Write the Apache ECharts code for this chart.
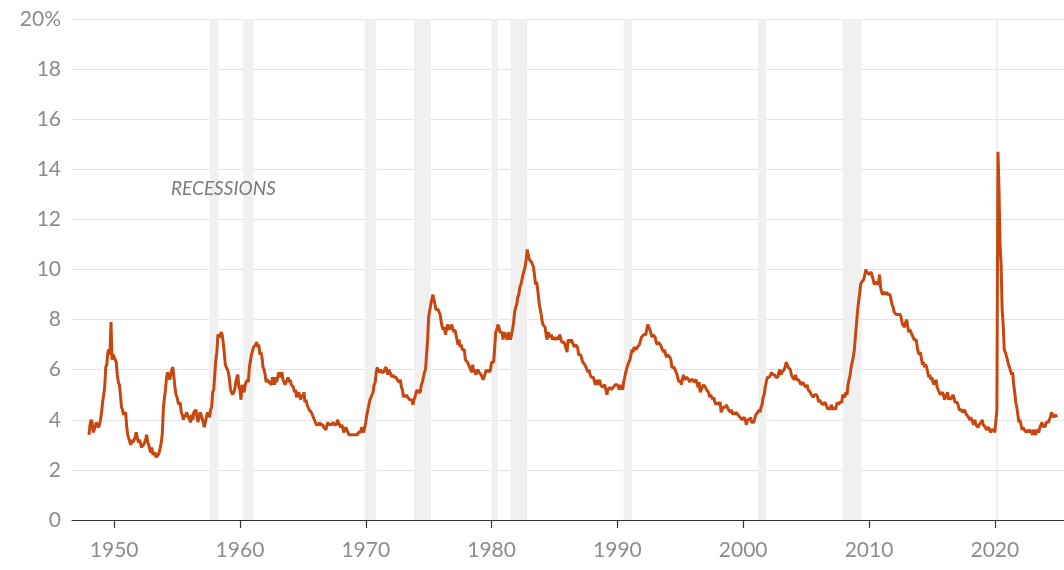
<!DOCTYPE html>
<html>
<head>
<meta charset="utf-8">
<script src="https://cdn.jsdelivr.net/npm/echarts@6/dist/echarts.min.js"></script>
<style>
html,body{margin:0;padding:0;background:#fff;}
#chart{width:1064px;height:570px;}
</style>
</head>
<body>
<div id="chart"></div>
<script>
// Monthly US unemployment rate (%), Jan..Dec for each year, starting 1948
var startYear = 1948;
var rates1940s = [
  3.4,3.8,4.0,3.9,3.5,3.6,3.6,3.9,3.8,3.7,3.8,4.0,
  4.3,4.7,5.0,5.3,6.1,6.2,6.7,6.8,6.6,7.9,6.4,6.6
];
var rates1950s = [
  6.5,6.4,6.3,5.8,5.5,5.4,5.0,4.5,4.4,4.2,4.2,4.3,
  3.7,3.4,3.4,3.1,3.0,3.2,3.1,3.1,3.3,3.5,3.5,3.1,
  3.2,3.1,2.9,2.9,3.0,3.0,3.2,3.4,3.1,3.0,2.8,2.7,
  2.9,2.6,2.6,2.7,2.5,2.5,2.6,2.7,2.9,3.1,3.5,4.5,
  4.9,5.2,5.7,5.9,5.9,5.6,5.8,6.0,6.1,5.7,5.3,5.0,
  4.9,4.7,4.6,4.7,4.3,4.2,4.0,4.2,4.1,4.3,4.2,4.2,
  4.0,3.9,4.2,4.0,4.3,4.3,4.4,4.1,3.9,3.9,4.3,4.2,
  4.2,3.9,3.7,3.9,4.1,4.3,4.2,4.1,4.4,4.5,5.1,5.2,
  5.8,6.4,6.7,7.4,7.4,7.3,7.5,7.4,7.1,6.7,6.2,6.2,
  6.0,5.9,5.6,5.2,5.1,5.0,5.1,5.2,5.5,5.7,5.8,5.3
];
var rates1960s = [
  5.2,4.8,5.4,5.2,5.1,5.4,5.5,5.6,5.5,6.1,6.1,6.6,
  6.6,6.9,6.9,7.0,7.1,6.9,7.0,6.6,6.7,6.5,6.1,6.0,
  5.8,5.5,5.6,5.6,5.5,5.5,5.4,5.7,5.6,5.4,5.7,5.5,
  5.7,5.9,5.7,5.7,5.9,5.6,5.6,5.4,5.5,5.5,5.7,5.5,
  5.6,5.4,5.4,5.3,5.1,5.2,4.9,5.0,5.1,5.1,4.8,5.0,
  4.9,5.1,4.7,4.8,4.6,4.6,4.4,4.4,4.3,4.2,4.1,4.0,
  4.0,3.8,3.8,3.8,3.9,3.8,3.8,3.8,3.7,3.7,3.6,3.8,
  3.9,3.8,3.8,3.8,3.8,3.9,3.8,3.8,3.8,4.0,3.9,3.8,
  3.7,3.8,3.7,3.5,3.5,3.7,3.7,3.5,3.4,3.4,3.4,3.4,
  3.4,3.4,3.4,3.4,3.4,3.5,3.5,3.5,3.7,3.7,3.5,3.5
];
var rates1970s = [
  3.9,4.2,4.4,4.6,4.8,4.9,5.0,5.1,5.4,5.5,5.9,6.1,
  5.9,5.9,6.0,5.9,5.9,5.9,6.0,6.1,6.0,5.8,6.0,6.0,
  5.8,5.7,5.8,5.7,5.7,5.7,5.6,5.6,5.5,5.6,5.3,5.2,
  4.9,5.0,4.9,5.0,4.9,4.9,4.8,4.8,4.8,4.6,4.8,4.9,
  5.1,5.2,5.1,5.1,5.1,5.4,5.5,5.5,5.9,6.0,6.6,7.2,
  8.1,8.1,8.6,8.8,9.0,8.8,8.6,8.4,8.4,8.4,8.3,8.2,
  7.9,7.7,7.6,7.7,7.4,7.6,7.8,7.8,7.6,7.7,7.8,7.8,
  7.5,7.6,7.4,7.2,7.0,7.2,6.9,7.0,6.8,6.8,6.8,6.4,
  6.4,6.3,6.3,6.1,6.0,5.9,6.2,5.9,6.0,5.8,5.9,6.0,
  5.9,5.9,5.8,5.8,5.6,5.7,5.7,6.0,5.9,6.0,5.9,6.0
];
var rates1980s = [
  6.3,6.3,6.3,6.9,7.5,7.6,7.8,7.7,7.5,7.5,7.5,7.2,
  7.5,7.4,7.4,7.2,7.5,7.5,7.2,7.4,7.6,7.9,8.3,8.5,
  8.6,8.9,9.0,9.3,9.4,9.6,9.8,9.8,10.1,10.4,10.8,10.8,
  10.4,10.4,10.3,10.2,10.1,10.1,9.4,9.5,9.2,8.8,8.5,8.3,
  8.0,7.8,7.8,7.7,7.4,7.2,7.5,7.5,7.3,7.4,7.2,7.3,
  7.3,7.2,7.2,7.3,7.2,7.4,7.4,7.1,7.1,7.1,7.0,7.0,
  6.7,7.2,7.2,7.1,7.2,7.2,7.0,6.9,7.0,7.0,6.9,6.6,
  6.6,6.6,6.6,6.3,6.3,6.2,6.1,6.0,5.9,6.0,5.8,5.7,
  5.7,5.7,5.7,5.4,5.6,5.4,5.4,5.6,5.4,5.4,5.3,5.3,
  5.4,5.2,5.0,5.2,5.2,5.3,5.2,5.2,5.3,5.3,5.4,5.4
];
var rates1990s = [
  5.4,5.3,5.2,5.4,5.4,5.2,5.5,5.7,5.9,5.9,6.2,6.3,
  6.4,6.6,6.8,6.7,6.9,6.9,6.8,6.9,6.9,7.0,7.0,7.3,
  7.3,7.4,7.4,7.4,7.6,7.8,7.7,7.6,7.6,7.3,7.4,7.4,
  7.3,7.1,7.0,7.1,7.1,7.0,6.9,6.8,6.7,6.8,6.6,6.5,
  6.6,6.6,6.5,6.4,6.1,6.1,6.1,6.0,5.9,5.8,5.6,5.5,
  5.6,5.4,5.4,5.8,5.6,5.6,5.7,5.7,5.6,5.5,5.6,5.6,
  5.6,5.5,5.5,5.6,5.6,5.3,5.5,5.1,5.2,5.2,5.4,5.4,
  5.3,5.2,5.2,5.1,4.9,5.0,4.9,4.8,4.9,4.7,4.6,4.7,
  4.6,4.6,4.7,4.3,4.4,4.5,4.5,4.5,4.6,4.5,4.4,4.4,
  4.3,4.4,4.2,4.3,4.2,4.3,4.3,4.2,4.2,4.1,4.1,4.0
];
var rates2000s = [
  4.0,4.1,4.0,3.8,4.0,4.0,4.0,4.1,3.9,3.9,3.9,3.9,
  4.2,4.2,4.3,4.4,4.3,4.5,4.6,4.9,5.0,5.3,5.5,5.7,
  5.7,5.7,5.7,5.9,5.8,5.8,5.8,5.7,5.7,5.7,5.9,6.0,
  5.8,5.9,5.9,6.0,6.1,6.3,6.2,6.1,6.1,6.0,5.8,5.7,
  5.7,5.6,5.8,5.6,5.6,5.6,5.5,5.4,5.4,5.5,5.4,5.4,
  5.3,5.4,5.2,5.2,5.1,5.0,5.0,4.9,5.0,5.0,5.0,4.9,
  4.7,4.8,4.7,4.7,4.6,4.6,4.7,4.7,4.5,4.4,4.5,4.4,
  4.6,4.5,4.4,4.5,4.4,4.6,4.7,4.6,4.7,4.7,4.7,5.0,
  5.0,4.9,5.1,5.0,5.4,5.6,5.8,6.1,6.1,6.5,6.8,7.3,
  7.8,8.3,8.7,9.0,9.4,9.5,9.5,9.6,9.8,10.0,9.9,9.9
];
var rates2010s = [
  9.8,9.8,9.9,9.9,9.6,9.4,9.4,9.5,9.5,9.4,9.8,9.3,
  9.1,9.0,9.0,9.1,9.0,9.1,9.0,9.0,9.0,8.8,8.6,8.5,
  8.3,8.3,8.2,8.2,8.2,8.2,8.2,8.0,7.8,7.8,7.7,7.9,
  8.0,7.7,7.5,7.6,7.5,7.5,7.3,7.2,7.2,7.2,6.9,6.7,
  6.6,6.7,6.7,6.2,6.3,6.1,6.2,6.1,5.9,5.7,5.8,5.6,
  5.7,5.5,5.4,5.4,5.6,5.3,5.2,5.1,5.0,5.0,5.1,5.0,
  4.8,4.9,5.0,5.1,4.8,4.9,4.8,4.9,5.0,4.9,4.7,4.7,
  4.7,4.6,4.4,4.4,4.4,4.3,4.3,4.4,4.3,4.2,4.2,4.1,
  4.0,4.1,4.0,4.0,3.8,4.0,3.8,3.8,3.7,3.8,3.8,3.9,
  4.0,3.8,3.8,3.7,3.6,3.6,3.7,3.6,3.5,3.6,3.6,3.6
];
var rates2020s = [
  3.5,3.5,4.4,14.7,13.2,11.0,10.2,8.4,7.8,6.8,6.7,6.7,
  6.4,6.2,6.1,6.1,5.8,5.9,5.4,5.1,4.7,4.5,4.2,3.9,
  4.0,3.8,3.6,3.7,3.6,3.6,3.5,3.6,3.5,3.6,3.6,3.5,
  3.4,3.6,3.5,3.4,3.6,3.6,3.5,3.7,3.8,3.9,3.7,3.8,
  3.7,3.9,3.9,3.9,4.0,4.1,4.3,4.2,4.1,4.1,4.2,4.1
];
// Recessions [start, end] as decimal years (NBER peak to trough)
var recessions = [
  [1957.58, 1958.29], [1960.25, 1961.08], [1969.92, 1970.83],
  [1973.83, 1975.17], [1980.0, 1980.5], [1981.5, 1982.83],
  [1990.5, 1991.17], [2001.17, 2001.83], [2007.92, 2009.42],
  [2020.08, 2020.25]
];
var xTickYears = [1950, 1960, 1970, 1980, 1990, 2000, 2010, 2020];

var allRates = [].concat(rates1940s, rates1950s, rates1960s, rates1970s,
  rates1980s, rates1990s, rates2000s, rates2010s, rates2020s);
var seriesData = allRates.map(function (v, i) {
  return [startYear + i / 12, v];
});

var FONT = 'Lato, "Open Sans", sans-serif';
var chart = echarts.init(document.getElementById('chart'));
chart.setOption({
  animation: false,
  grid: { left: 72, right: 0, top: 19, bottom: 50 },
  xAxis: {
    type: 'value',
    min: 1946.65,
    max: 2025.5,
    splitLine: { show: false },
    axisLine: { show: true, lineStyle: { color: '#333', width: 1.2 } },
    axisTick: { show: true, length: 8, lineStyle: { color: '#333', width: 1.2 }, customValues: xTickYears },
    axisLabel: {
      customValues: xTickYears,
      color: '#8c8c8c', fontSize: 21, fontFamily: FONT, margin: 20,
      formatter: function (v) { return String(Math.round(v)); }
    }
  },
  yAxis: {
    type: 'value',
    min: 0, max: 20, interval: 2,
    axisLine: { show: false },
    axisTick: { show: false },
    splitLine: { lineStyle: { color: '#e4e4e4', width: 1 } },
    axisLabel: {
      color: '#8c8c8c', fontSize: 21, fontFamily: FONT, margin: 11,
      formatter: function (v) { return v === 20 ? '20%' : String(v); }
    }
  },
  graphic: [{
    type: 'text', left: 171, top: 179, z: 100,
    style: { text: 'RECESSIONS', fill: '#7a7a7a', font: 'italic 19px ' + FONT }
  }],
  series: [{
    type: 'line',
    data: seriesData,
    showSymbol: false,
    lineStyle: { color: '#c8470f', width: 3 },
    markArea: {
      silent: true,
      itemStyle: { color: '#f0f0f0' },
      data: recessions.map(function (r) { return [{ xAxis: r[0] }, { xAxis: r[1] }]; })
    }
  }]
});
</script>
</body>
</html>
